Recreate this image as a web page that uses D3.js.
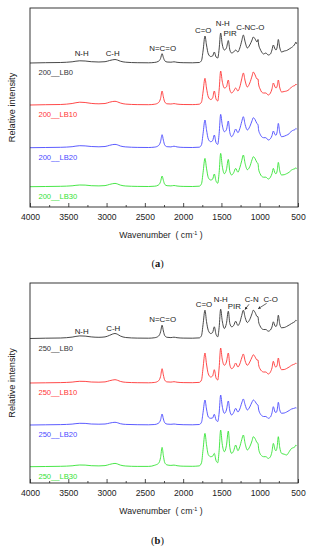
<!DOCTYPE html>
<html><head><meta charset="utf-8">
<script src="https://cdn.jsdelivr.net/npm/d3@7"></script>
<style>body{margin:0;background:#fff}svg{display:block}</style>
</head><body>
<svg id="c" width="313" height="550"></svg>
<script>
// Shared wavenumber grid (cm-1)
const wavenumbers = [4000,3800,3600,3450,3350,3280,3200,3100,3020,2960,2920,2890,2860,2820,2750,2600,2450,2370,2320,2295,2275,2258,2240,2210,2160,2120,2080,2000,1880,1790,1760,1740,1715,1695,1671,1640,1615,1593,1570,1548,1530,1510,1490,1462,1435,1410,1390,1366,1340,1314,1285,1260,1235,1214,1190,1162,1130,1100,1084,1060,1035,1022,1015,995,975,950,920,888,860,840,822,800,787,772,757,740,714,680,649,615,584,560,540,527,520];

// Panel (a) 200 series, intensity above own baseline (a.u.)
const lb0_200 = [0,0.3,0.5,1.2,2.2,2.0,1.3,1.0,1.3,2.5,3.2,3.5,3.0,1.8,0.8,0.3,0.2,0.6,1.8,4.5,9.3,5.5,2.2,1.0,0.8,1.2,0.7,0.3,0.2,0.5,2.5,12,27,18,9,6.5,7,11,6,5,14,30,19,13,15,22.5,13,10,11,13,11,15,22,28,21,15,18,23,26,24,21,23.5,19,14,11,9,10,8,9,13,18,14,13,16,23.5,16,11,12,12.5,14,15.5,17,19,21,19];
const lb10_200 = [0,0.3,0.5,1.5,2.8,2.5,1.6,1.2,1.5,2.8,3.5,3.7,3.2,2.0,0.9,0.4,0.3,0.8,2.5,6.5,14,8,3,1.2,1.0,1.4,0.9,0.5,0.4,0.8,3,13,26.7,17,8,5.5,7,14,6,4,15,34,24,17,18,25,15,12,14,17,14,18,26,32,24,18,22,29,33,30,26,26,21,16,13,12,12,10,12,16,22,18,17,19,25,18,13,13.5,14,15.5,18,19,19.5,21,20];
const lb20_200 = [0,0.2,0.4,1.0,2.0,1.8,1.2,0.9,1.2,2.4,3.1,3.3,2.9,1.7,0.8,0.3,0.2,0.6,2.2,6,13,7.5,2.6,1.0,0.8,1.5,0.8,0.3,0.2,0.5,3,14,27.7,18,8.5,6,7,12.7,5,3.3,14,33.3,23,16,18,26.7,15,11,14,18.7,15,19,26,31,23,17.7,21,27,30,28,24,23,18,13.5,11,10,10,7.7,9,12,16.7,13,12.5,16,24.3,16,11,11.5,12.5,14,16.7,17.5,18,19.3,18.5];
const lb30_200 = [0,0.2,0.4,0.9,1.7,1.6,1.0,0.8,1.1,2.3,3.0,3.3,2.8,1.6,0.7,0.3,0.2,0.5,1.8,5,10.7,6.3,2.3,1.0,0.8,1.2,0.7,0.3,0.2,0.5,3,14,28.3,18.5,9,6.7,7.5,12.7,5.5,3.5,14,33.3,21,13,17,27.3,15,11.7,14,18.3,14.5,19,26,31.7,23,17,20,27,30,28,24,23,18,13,10.5,9.5,9.5,7.7,9.5,13,18.3,13.5,13,16,24.3,16.5,11.7,12,13,14.5,16.7,17.5,18,19,18];

// Panel (b) 250 series
const lb0_250 = [0,0.3,0.5,1.4,2.6,2.4,1.6,1.2,1.6,3.2,4.5,5,4.3,2.5,1.0,0.4,0.3,0.8,2.5,6.5,13.3,7.5,2.8,1.2,0.9,1.3,0.8,0.4,0.3,0.6,3,14,28.3,17,8,5,6,11.7,4,1.7,11,29.3,18,10,15,27.3,15,11.7,13,17.3,13,16,23,28.3,21,16,19,25,28.3,26,22,21.7,17,12.5,10,9,9,7.3,8.5,11.5,16.7,12.5,12,15,23.3,15,10.7,11,12,13.5,15,16,17,18.3,17.5];
const lb10_250 = [0,0.2,0.4,0.9,1.7,1.6,1.0,0.8,1.1,2.3,3.0,3.3,2.8,1.6,0.7,0.3,0.2,0.6,2.3,6.5,14.3,8,2.8,1.1,0.9,1.3,0.8,0.4,0.3,0.6,3,15,30,19,9,6,7,13.3,5,3,15,35,24,17.7,21,30,18,14.3,16,20,16,19,25,29,22,17.7,21,26,28.3,26,23,23,18.5,14,12,11,11,9,11,15,21.7,16.5,16,18,25,18,13.3,13.5,14.5,16,17.7,18.5,19,20,19.5];
const lb20_250 = [0,0.2,0.4,0.9,1.7,1.6,1.0,0.8,1.0,1.9,2.5,2.7,2.3,1.3,0.6,0.3,0.2,0.5,1.9,5,11,6,2.2,0.9,0.7,1.0,0.6,0.3,0.2,0.5,2.8,12.5,25,16,8,6.7,7,10.7,5,3.5,12,30,19,11.7,15,24,14,10,12.5,16.7,13,16,22,26,20,15,18,23,25,23.5,20.5,20,16,11.5,9.5,8.5,8.5,6.7,8,12,18.3,13,12.5,15,22.7,15.5,11.7,12,13,14.5,16,16.5,17,17.3,17];
const lb30_250 = [0,0.2,0.4,0.9,1.7,1.6,1.0,0.8,1.1,2.3,3.0,3.3,2.8,1.6,0.7,0.3,0.3,1.5,3.5,9,19.3,11,4,1.8,1.3,1.6,1.0,0.5,0.4,0.8,4,17,33.3,22,12,10,10.5,13.3,6,4,16,36.7,23,15,21,35.7,19,13.3,16,21.7,16,20,27,31.7,23,16.7,20,26,30,28,24,23.3,18.5,13,11,10,10,8.3,10,15,23.3,17,16,20,30,20,13.3,12.5,11.7,15,18.3,19,20,21.7,21];

const names200 = ["200__LB0","200__LB10","200__LB20","200__LB30"];
const names250 = ["250__LB0","250__LB10","250__LB20","250__LB30"];
const stackOffsets200 = [123.7, 81.7, 39, 0];
const stackOffsets250 = [128.2, 83.7, 41.7, 0];
const seriesColors = ["#333333","#ff3434","#4a4aff","#33e333"];
const xTickValues = [4000,3500,3000,2500,2000,1500,1000,500];
const xMinorTickValues = [3750,3250,2750,2250,1750,1250,750];

const bandLabels200 = [
  {text:"N-H", w:3325, v:133.4},{text:"C-H", w:2920, v:133.4},{text:"N=C=O", w:2267, v:138.4},
  {text:"C=O", w:1737, v:156},{text:"N-H", w:1483, v:163.4},{text:"PIR", w:1388, v:153.4},
  {text:"C-N", w:1214, v:159.4},{text:"C-O", w:1032, v:159.4}
];
const bandLabels250 = [
  {text:"N-H", w:3325, v:135.7},{text:"C-H", w:2912, v:138.4},{text:"N=C=O", w:2267, v:147.4},
  {text:"C=O", w:1728, v:162.4},{text:"N-H", w:1509, v:167.7},{text:"PIR", w:1332, v:160.7},
  {text:"C-N", w:1105, v:167.7},{text:"C-O", w:857, v:167.7}
];
const arrows250 = [
  {w1:1140, v1:162.4, w2:1192, v2:157.2},
  {w1:909, v1:163.4, w2:1019, v2:158.0}
];

const FONT = "Liberation Sans, Arial, sans-serif";
const svg = d3.select("#c");
const defs = svg.append("defs");
defs.append("marker").attr("id","ah").attr("viewBox","0 0 10 10").attr("refX",9).attr("refY",5)
  .attr("markerWidth",4).attr("markerHeight",4).attr("orient","auto")
  .append("path").attr("d","M0,0L10,5L0,10z").attr("fill","#222");

function drawPanel(cfg){
  const g = svg.append("g");
  const x = d3.scaleLinear().domain([4000,500]).range([30,298]);
  const y = d3.scaleLinear().domain(cfg.yDomain).range([cfg.bottom, cfg.top]);
  const series = [cfg.s0, cfg.s1, cfg.s2, cfg.s3];
  series.forEach((vals, i) => {
    const pts = wavenumbers.map((w, k) => [w, vals[k] + cfg.offsets[i]]);
    const line = d3.line().x(d => x(d[0])).y(d => y(d[1])).curve(d3.curveMonotoneX);
    g.append("path").attr("d", line(pts)).attr("fill","none")
      .attr("stroke", seriesColors[i]).attr("stroke-width",0.9).attr("stroke-linejoin","round");
    g.append("text").attr("x", x(3890)).attr("y", y(cfg.offsets[i]) + 12)
      .attr("font-family",FONT).attr("font-size",7.6)
      .attr("fill", seriesColors[i]).text(cfg.names[i]);
  });
  // frame
  g.append("rect").attr("x",30).attr("y",cfg.top).attr("width",268).attr("height",cfg.bottom-cfg.top)
    .attr("fill","none").attr("stroke","#222").attr("stroke-width",0.9);
  // x axis
  const ax = g.append("g").attr("transform",`translate(0,${cfg.bottom})`)
    .call(d3.axisBottom(x).tickValues(xTickValues).tickSize(-4).tickPadding(7).tickFormat(d3.format("d")));
  ax.select(".domain").remove();
  ax.selectAll(".tick line").attr("stroke","#222").attr("stroke-width",0.8);
  ax.selectAll("text").attr("font-family",FONT).attr("font-size",8.6).attr("fill","#222");
  const axm = g.append("g").attr("transform",`translate(0,${cfg.bottom})`)
    .call(d3.axisBottom(x).tickValues(xMinorTickValues).tickSize(-2).tickFormat(""));
  axm.select(".domain").remove();
  axm.selectAll(".tick line").attr("stroke","#222").attr("stroke-width",0.8);
  // x title
  const t = g.append("text").attr("x",161).attr("y",cfg.bottom+31).attr("text-anchor","middle")
    .attr("font-family",FONT).attr("font-size",8.7).attr("fill","#222");
  t.append("tspan").text("Wavenumber\u00a0\u00a0(\u00a0cm");
  t.append("tspan").attr("dy",-3.5).attr("font-size",5.5).text("-1");
  t.append("tspan").attr("dy",3.5).text("\u00a0)");
  // y title
  g.append("text").attr("transform",`translate(15,${(cfg.top+cfg.bottom)/2}) rotate(-90)`)
    .attr("text-anchor","middle").attr("font-family",FONT)
    .attr("font-size",9.2).attr("fill","#222").text("Relative intensity");
  // band labels
  cfg.bands.forEach(b => {
    g.append("text").attr("x", x(b.w)).attr("y", y(b.v)).attr("dy","0.35em").attr("text-anchor","middle")
      .attr("font-family",FONT).attr("font-size",7.9).attr("fill","#222").text(b.text);
  });
  (cfg.arrows||[]).forEach(a => {
    g.append("line").attr("x1",x(a.w1)).attr("y1",y(a.v1)).attr("x2",x(a.w2)).attr("y2",y(a.v2))
      .attr("stroke","#222").attr("stroke-width",0.7).attr("marker-end","url(#ah)");
  });
  // caption
  const cap = g.append("text").attr("x",157.5).attr("y",cfg.caption_y).attr("text-anchor","middle")
    .attr("font-family","Liberation Serif, Times New Roman, serif").attr("font-size",10.5).attr("fill","#111");
  cap.append("tspan").text("(");
  cap.append("tspan").attr("font-weight","bold").text(cfg.captionLetter);
  cap.append("tspan").text(")");
}

drawPanel({top:8, bottom:207, yDomain:[-20.3,178.7], s0:lb0_200, s1:lb10_200, s2:lb20_200, s3:lb30_200,
  offsets:stackOffsets200, names:names200, bands:bandLabels200, caption_y:267, captionLetter:"a"});
drawPanel({top:283, bottom:483, yDomain:[-16.3,183.7], s0:lb0_250, s1:lb10_250, s2:lb20_250, s3:lb30_250,
  offsets:stackOffsets250, names:names250, bands:bandLabels250, arrows:arrows250, caption_y:544, captionLetter:"b"});
</script>
</body></html>
